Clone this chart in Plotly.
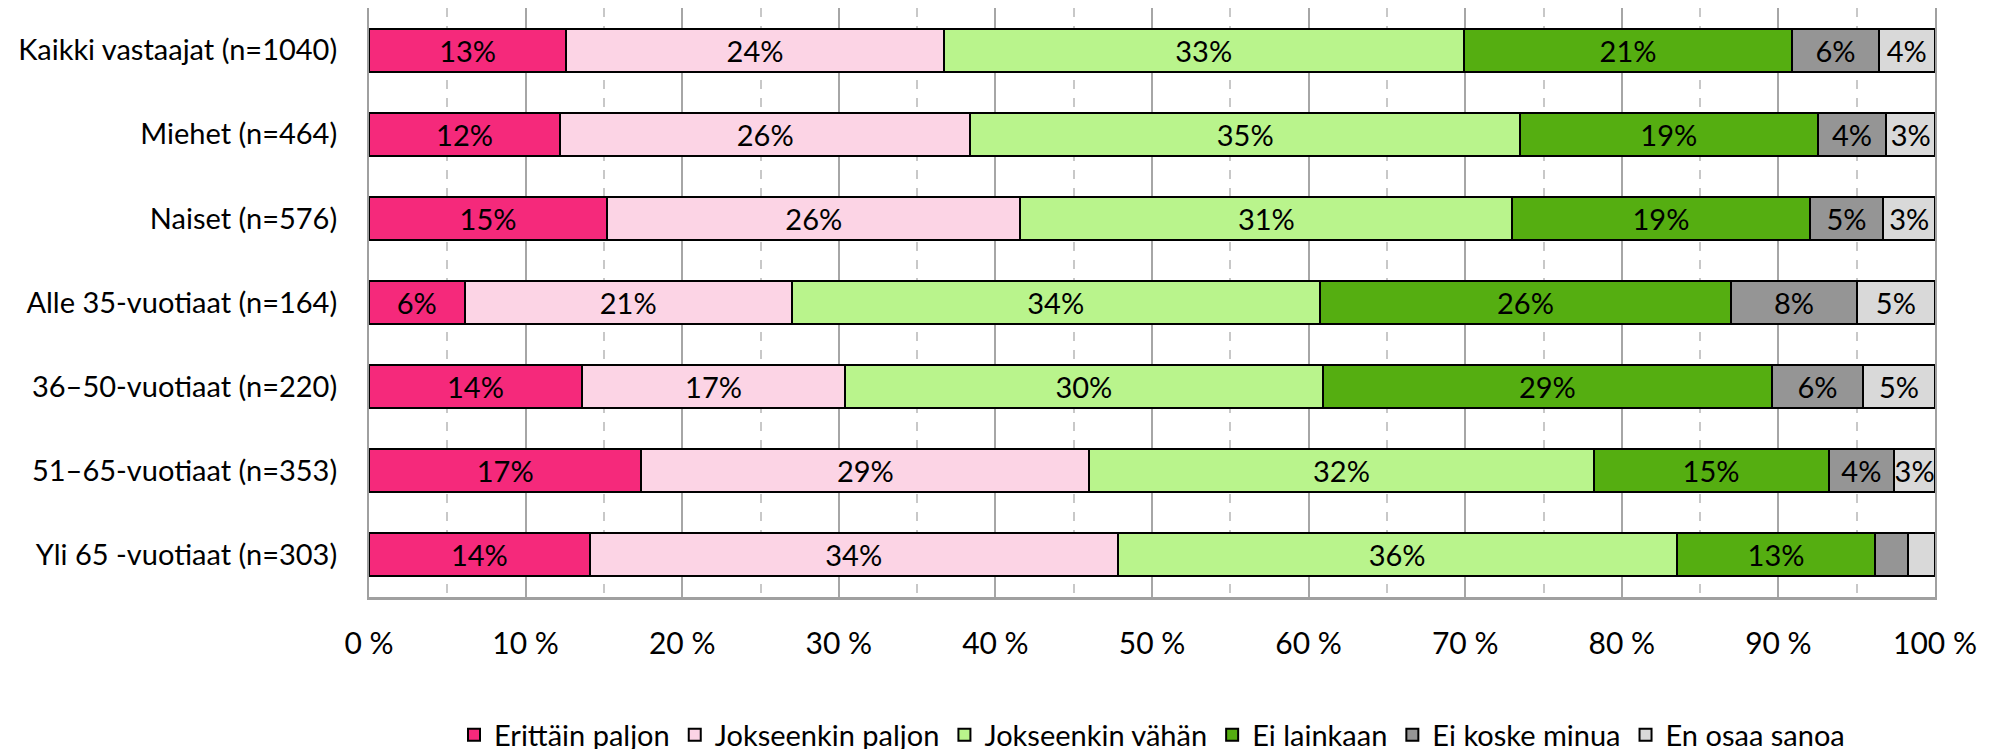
import plotly.graph_objects as go

categories = [
    "Kaikki vastaajat (n=1040)",
    "Miehet (n=464)",
    "Naiset (n=576)",
    "Alle 35-vuotiaat (n=164)",
    "36–50-vuotiaat (n=220)",
    "51–65-vuotiaat (n=353)",
    "Yli 65 -vuotiaat (n=303)",
]

series_names = [
    "Erittäin paljon",
    "Jokseenkin paljon",
    "Jokseenkin vähän",
    "Ei lainkaan",
    "Ei koske minua",
    "En osaa sanoa",
]

erittain_paljon = [12.6, 12.2, 15.2, 6.1, 13.6, 17.4, 14.1]
jokseenkin_paljon = [24.1, 26.2, 26.4, 20.9, 16.8, 28.6, 33.7]
jokseenkin_vahan = [33.2, 35.1, 31.4, 33.7, 30.5, 32.2, 35.7]
ei_lainkaan = [21.0, 19.0, 19.0, 26.3, 28.7, 15.0, 12.7]
ei_koske_minua = [5.5, 4.4, 4.7, 8.0, 5.8, 4.2, 2.1]
en_osaa_sanoa = [3.6, 3.1, 3.3, 5.0, 4.6, 2.6, 1.7]

erittain_paljon_lbl = ["13%", "12%", "15%", "6%", "14%", "17%", "14%"]
jokseenkin_paljon_lbl = ["24%", "26%", "26%", "21%", "17%", "29%", "34%"]
jokseenkin_vahan_lbl = ["33%", "35%", "31%", "34%", "30%", "32%", "36%"]
ei_lainkaan_lbl = ["21%", "19%", "19%", "26%", "29%", "15%", "13%"]
ei_koske_minua_lbl = ["6%", "4%", "5%", "8%", "6%", "4%", ""]
en_osaa_sanoa_lbl = ["4%", "3%", "3%", "5%", "5%", "3%", ""]

values = [erittain_paljon, jokseenkin_paljon, jokseenkin_vahan,
          ei_lainkaan, ei_koske_minua, en_osaa_sanoa]
labels = [erittain_paljon_lbl, jokseenkin_paljon_lbl, jokseenkin_vahan_lbl,
          ei_lainkaan_lbl, ei_koske_minua_lbl, en_osaa_sanoa_lbl]
colors = ["#F5297B", "#FCD4E5", "#B9F48C", "#55AE11", "#959595", "#D9D9D9"]

FONT = "Lato, Open Sans, sans-serif"

fig = go.Figure()
for name, vals, lbl, col in zip(series_names, values, labels, colors):
    fig.add_trace(
        go.Bar(
            y=categories,
            x=vals,
            name=name,
            orientation="h",
            text=lbl,
            textposition="inside",
            insidetextanchor="middle",
            textangle=0,
            constraintext="none",
            textfont=dict(family=FONT, size=29, color="black"),
            marker=dict(color=col, line=dict(color="black", width=2)),
        )
    )

# page body has an 8px margin, so margins are shifted by that
fig.update_layout(
    barmode="stack",
    bargap=0.49,
    width=2001,
    height=749,
    margin=dict(l=361, r=74, t=0, b=160, autoexpand=False),
    plot_bgcolor="white",
    paper_bgcolor="white",
    font=dict(family=FONT, size=29, color="black"),
    showlegend=True,
    legend=dict(
        orientation="h",
        traceorder="normal",
        x=0.5,
        xanchor="center",
        y=-0.234,
        yanchor="middle",
        font=dict(size=29),
        itemwidth=30,
    ),
)

fig.update_xaxes(
    range=[0, 100],
    dtick=10,
    ticksuffix=" %",
    showgrid=True,
    gridcolor="#A6A6A6",
    gridwidth=1.5,
    minor=dict(dtick=5, showgrid=True, gridcolor="#C8C8C8", griddash="dash", gridwidth=1.5),
    showline=True,
    linecolor="#A0A0A0",
    linewidth=2.5,
    mirror=True,
    zeroline=False,
    ticklabelstandoff=18,
    tickfont=dict(size=30),
)
fig.update_yaxes(
    categoryorder="array",
    categoryarray=categories,
    autorange="reversed",
    showgrid=False,
    showline=True,
    linecolor="#A0A0A0",
    linewidth=2,
    mirror=True,
    ticks="",
    ticklabelstandoff=24,
    tickfont=dict(size=29),
)

fig.write_html("out.html")
